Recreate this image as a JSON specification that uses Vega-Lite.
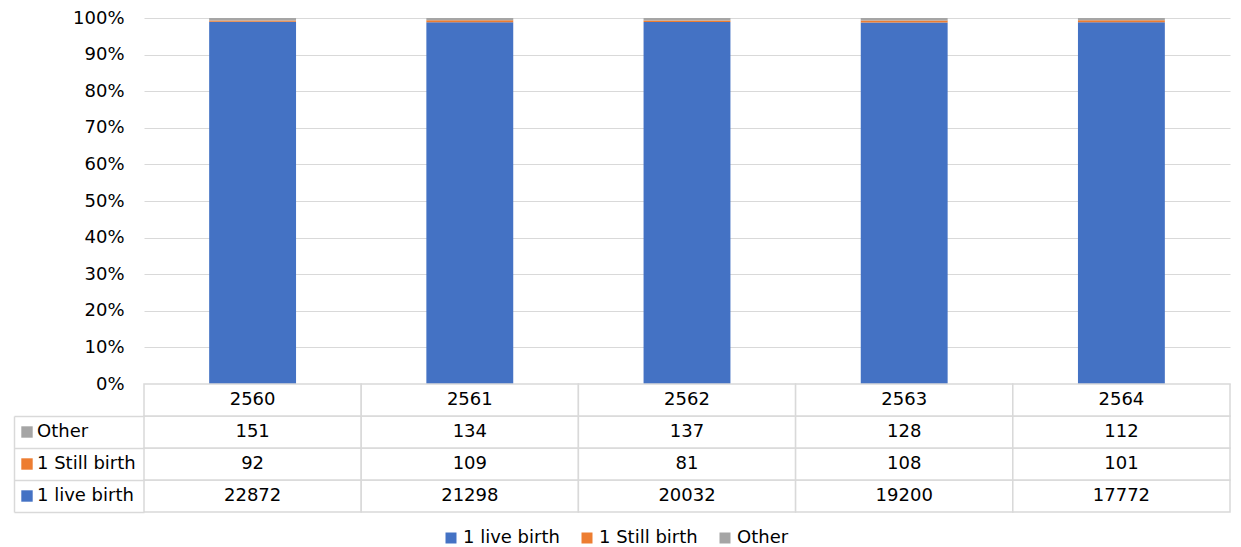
{
  "$schema": "https://vega.github.io/schema/vega-lite/v6.json",
  "padding": {"left": 13, "top": 9, "right": 5, "bottom": 5},
  "background": "white",
  "datasets": {
    "counts": [
      {"year": "2560", "series": "1 live birth", "count": 22872},
      {"year": "2560", "series": "1 Still birth", "count": 92},
      {"year": "2560", "series": "Other", "count": 151},
      {"year": "2561", "series": "1 live birth", "count": 21298},
      {"year": "2561", "series": "1 Still birth", "count": 109},
      {"year": "2561", "series": "Other", "count": 134},
      {"year": "2562", "series": "1 live birth", "count": 20032},
      {"year": "2562", "series": "1 Still birth", "count": 81},
      {"year": "2562", "series": "Other", "count": 137},
      {"year": "2563", "series": "1 live birth", "count": 19200},
      {"year": "2563", "series": "1 Still birth", "count": 108},
      {"year": "2563", "series": "Other", "count": 128},
      {"year": "2564", "series": "1 live birth", "count": 17772},
      {"year": "2564", "series": "1 Still birth", "count": 101},
      {"year": "2564", "series": "Other", "count": 112}
    ]
  },
  "config": {
    "view": {"stroke": null},
    "font": "DejaVu Sans",
    "text": {"font": "DejaVu Sans", "fontSize": 18, "color": "#000000"},
    "axis": {"labelFont": "DejaVu Sans", "labelFontSize": 18, "labelColor": "#000000"}
  },
  "bounds": "flush",
  "spacing": 0,
  "vconcat": [
    {
      "width": 1086,
      "height": 366,
      "data": {"name": "counts"},
      "transform": [
        {"calculate": "indexof(['1 live birth', '1 Still birth', 'Other'], datum.series)", "as": "stackOrder"}
      ],
      "mark": {"type": "bar"},
      "encoding": {
        "x": {
          "field": "year",
          "type": "nominal",
          "axis": null,
          "scale": {"paddingInner": 0.6, "paddingOuter": 0.3}
        },
        "y": {
          "field": "count",
          "type": "quantitative",
          "stack": "normalize",
          "axis": {
            "title": null,
            "format": "%",
            "values": [0, 0.1, 0.2, 0.3, 0.4, 0.5, 0.6, 0.7, 0.8, 0.9, 1],
            "grid": true,
            "gridColor": "#d9d9d9",
            "gridWidth": 1,
            "domain": false,
            "ticks": false,
            "labelPadding": 20
          }
        },
        "order": {"field": "stackOrder", "type": "quantitative", "sort": "ascending"},
        "color": {
          "field": "series",
          "type": "nominal",
          "scale": {
            "domain": ["1 live birth", "1 Still birth", "Other"],
            "range": ["#4472c4", "#ed7d31", "#a5a5a5"]
          },
          "legend": {
            "title": null,
            "orient": "none",
            "direction": "horizontal",
            "legendX": 298,
            "legendY": 511,
            "symbolType": "square",
            "symbolSize": 121,
            "symbolStrokeWidth": 0,
            "labelFont": "DejaVu Sans",
            "labelFontSize": 18,
            "labelColor": "#000000",
            "labelOffset": 3,
            "columnPadding": 18
          }
        }
      }
    },
    {
      "width": 1086,
      "height": 128,
      "data": {"name": "counts"},
      "layer": [
        {
          "mark": {"type": "rect", "fill": "white", "stroke": "#d9d9d9", "strokeWidth": 1.5},
          "encoding": {
            "x": {"field": "year", "type": "nominal", "axis": null, "scale": {"paddingInner": 0, "paddingOuter": 0}},
            "y": {
              "field": "series",
              "type": "nominal",
              "scale": {"domain": ["year", "Other", "1 Still birth", "1 live birth"], "paddingInner": 0, "paddingOuter": 0},
              "axis": {
                "title": null,
                "labels": false,
                "values": ["Other", "1 Still birth", "1 live birth"],
                "offset": 130,
                "domain": true,
                "domainColor": "#d9d9d9",
                "domainWidth": 1.5,
                "domainDash": [0, 32, 96, 0],
                "ticks": true,
                "tickBand": "extent",
                "tickSize": -130,
                "tickWidth": 1.5,
                "tickColor": "#d9d9d9"
              }
            }
          }
        },
        {
          "transform": [{"filter": "datum.series == 'Other'"}],
          "mark": {"type": "rect", "fill": "white", "stroke": "#d9d9d9", "strokeWidth": 1.5},
          "encoding": {
            "x": {"field": "year", "type": "nominal"},
            "y": {"datum": "year"}
          }
        },
        {
          "mark": {"type": "text"},
          "encoding": {
            "x": {"field": "year", "type": "nominal"},
            "y": {"field": "series", "type": "nominal"},
            "text": {"field": "count", "type": "quantitative", "format": "d"}
          }
        },
        {
          "transform": [{"filter": "datum.series == 'Other'"}],
          "mark": {"type": "text"},
          "encoding": {
            "x": {"field": "year", "type": "nominal"},
            "y": {"datum": "year"},
            "text": {"field": "year", "type": "nominal"}
          }
        },
        {
          "transform": [{"filter": "datum.year == '2560'"}],
          "mark": {"type": "point", "shape": "square", "filled": true, "size": 130, "opacity": 1, "xOffset": -660},
          "encoding": {
            "y": {"field": "series", "type": "nominal"},
            "color": {"field": "series", "type": "nominal"}
          }
        },
        {
          "transform": [{"filter": "datum.year == '2560'"}],
          "mark": {"type": "text", "align": "left", "dx": -650},
          "encoding": {
            "y": {"field": "series", "type": "nominal"},
            "text": {"field": "series", "type": "nominal"}
          }
        }
      ]
    }
  ]
}
